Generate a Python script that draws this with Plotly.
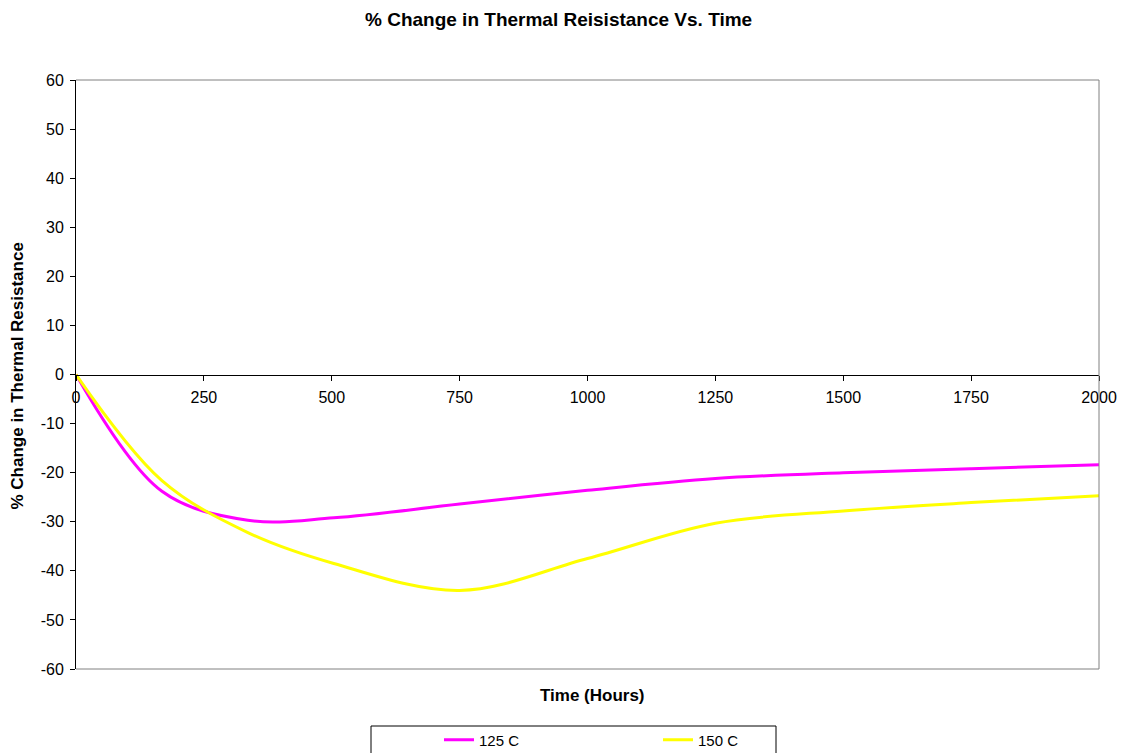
import plotly.graph_objects as go

hours = [0, 168, 336, 504, 750, 1000, 1250, 1500, 1750, 2000]
c125 = [0, -23.8, -29.7, -29.2, -26.4, -23.6, -21.2, -20.0, -19.2, -18.4]
c150 = [0, -21.6, -32.2, -38.5, -44.0, -37.5, -30.3, -27.8, -26.1, -24.7]
series_names = ["125 C", "150 C"]
colors = ["#FF00FF", "#FFFF00"]
yticks = list(range(-60, 61, 10))
xticks = list(range(0, 2001, 250))

W, H = 1122, 753
L, R, T, B = 76, 1099, 80, 669
pw, ph = R - L, B - T

def px(p):
    return (p - L) / pw

def py(p):
    return (B - p) / ph

fig = go.Figure()
for name, ys, col in zip(series_names, [c125, c150], colors):
    fig.add_trace(go.Scatter(x=hours, y=ys, mode="lines", name=name,
                             line=dict(color=col, width=3, shape="spline", smoothing=1.0)))

font = dict(family="Liberation Sans, Arial, sans-serif", size=16, color="#000000")

fig.update_layout(
    width=W, height=H,
    margin=dict(l=L, r=W - R, t=T, b=H - B, autoexpand=False),
    paper_bgcolor="white", plot_bgcolor="white",
    font=font,
    showlegend=True,
    legend=dict(orientation="h", x=px(439), xanchor="left", y=py(740), yanchor="middle",
                bgcolor="rgba(0,0,0,0)", borderwidth=0, entrywidth=174, entrywidthmode="pixels",
                font=dict(size=15)),
    xaxis=dict(range=[0, 2000], tickvals=xticks, ticktext=[str(v) for v in xticks],
               showgrid=False, zeroline=False, showline=True, linecolor="black", linewidth=1,
               ticks="outside", ticklen=5, tickcolor="black", anchor="free", position=0.5,
               ticklabelstandoff=3, tickfont=dict(size=16)),
    yaxis=dict(range=[-60, 60], tickvals=yticks, ticktext=[str(v) for v in yticks],
               showgrid=False, zeroline=False, showline=True, linecolor="black", linewidth=1,
               ticks="outside", ticklen=5, tickcolor="black", ticklabelstandoff=3,
               tickfont=dict(size=16)),
    shapes=[
        dict(type="line", xref="paper", yref="paper", x0=0, x1=1, y0=1, y1=1,
             line=dict(color="#808080", width=1)),
        dict(type="line", xref="paper", yref="paper", x0=1, x1=1, y0=0, y1=1,
             line=dict(color="#808080", width=1)),
        dict(type="line", xref="paper", yref="paper", x0=0, x1=1, y0=0, y1=0,
             line=dict(color="#808080", width=1)),
        dict(type="rect", xref="paper", yref="paper", x0=px(371), x1=px(776), y0=py(765), y1=py(726),
             line=dict(color="black", width=1), fillcolor="rgba(0,0,0,0)"),
    ],
    annotations=[
        dict(text="<b>% Change in Thermal Reisistance Vs. Time</b>", xref="paper", yref="paper",
             x=px(558), y=py(19), xanchor="center", yanchor="middle", showarrow=False,
             font=dict(size=19)),
        dict(text="<b>Time (Hours)</b>", xref="paper", yref="paper", x=px(592), y=py(695),
             xanchor="center", yanchor="middle", showarrow=False, font=dict(size=17)),
        dict(text="<b>% Change in Thermal Resistance</b>", xref="paper", yref="paper",
             x=px(16.5), y=py(376), xanchor="center", yanchor="middle", showarrow=False,
             textangle=-90, font=dict(size=17)),
    ],
)

fig.write_html("out.html")
